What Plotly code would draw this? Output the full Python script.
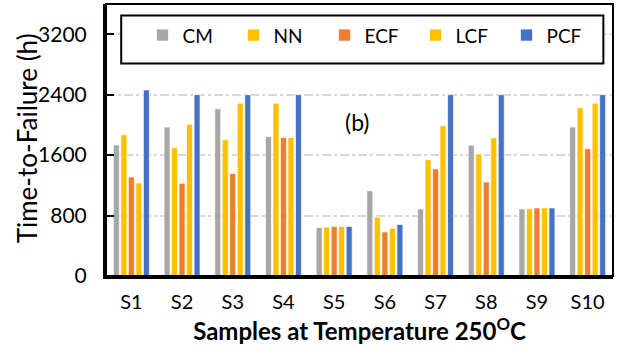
import plotly.graph_objects as go

categories = ["S1", "S2", "S3", "S4", "S5", "S6", "S7", "S8", "S9", "S10"]
cm  = [1735, 1971, 2212, 1846, 642, 1128, 888, 1730, 888, 1971]
nn  = [1869, 1699, 1802, 2288, 647, 780, 1539, 1615, 892, 2226]
ecf = [1311, 1227, 1356, 1833, 656, 584, 1418, 1244, 901, 1686]
lcf = [1231, 2007, 2288, 1833, 656, 633, 1989, 1829, 901, 2288]
pcf = [2462, 2400, 2400, 2400, 656, 682, 2400, 2400, 901, 2400]
y_ticks = [0, 800, 1600, 2400, 3200]

series = [("CM", cm, "#A9A7A5"), ("NN", nn, "#FFC000"), ("ECF", ecf, "#ED7D31"),
          ("LCF", lcf, "#FFC000"), ("PCF", pcf, "#4472C4")]

FONT = "Lato"
fig = go.Figure()
for name, vals, col in series:
    fig.add_trace(go.Bar(x=categories, y=vals, name=name,
                         marker=dict(color=col, line=dict(color="rgba(255,255,255,0.7)", width=1))))

fig.update_layout(
    width=621, height=354,
    margin=dict(l=106, r=8, t=4, b=78, autoexpand=False),
    paper_bgcolor="white", plot_bgcolor="white",
    barmode="group", bargap=0.26, bargroupgap=0.2,
    font=dict(family=FONT, size=20, color="black"),
    showlegend=True,
    legend=dict(orientation="h", x=0.072, y=0.955, xanchor="left", yanchor="top",
                bgcolor="rgba(0,0,0,0)", font=dict(size=19, family=FONT),
                entrywidth=46, itemwidth=30, traceorder="normal"),
    xaxis=dict(showline=True, linecolor="black", linewidth=3, ticks="",
               tickfont=dict(size=20), ticklabelstandoff=6,
               title=dict(text="<b>Samples at Temperature 250<sup>O</sup>C</b>",
                          font=dict(size=24), standoff=6)),
    yaxis=dict(range=[0, 3600], tickvals=y_ticks, showline=True, linecolor="black",
               linewidth=3, ticks="inside", ticklen=8, tickwidth=2, tickcolor="black",
               showgrid=True, gridcolor="#D9D9D9", griddash="dashdot", gridwidth=2,
               zeroline=False, tickfont=dict(size=21), ticklabelstandoff=12),
    shapes=[
        dict(type="rect", xref="paper", yref="paper", x0=0, x1=1, y0=0, y1=1,
             line=dict(color="black", width=2), layer="above"),
        dict(type="rect", xref="paper", yref="paper", x0=0.030, x1=0.981, y0=0.781, y1=0.958,
             line=dict(color="black", width=2), fillcolor="white", layer="above"),
    ],
    annotations=[
        dict(text="(b)", xref="paper", yref="y", x=0.497, y=2035,
             showarrow=False, font=dict(size=23, family=FONT)),
        dict(text="Time-to-Failure (h)", xref="paper", yref="paper",
             x=-0.156, y=0.506, textangle=-90, showarrow=False,
             xanchor="center", yanchor="middle", font=dict(size=26, family=FONT)),
    ],
)

fig.write_html("out.html", config={"displayModeBar": False},
               post_script="document.body.style.margin='0';document.body.style.overflow='hidden';")
